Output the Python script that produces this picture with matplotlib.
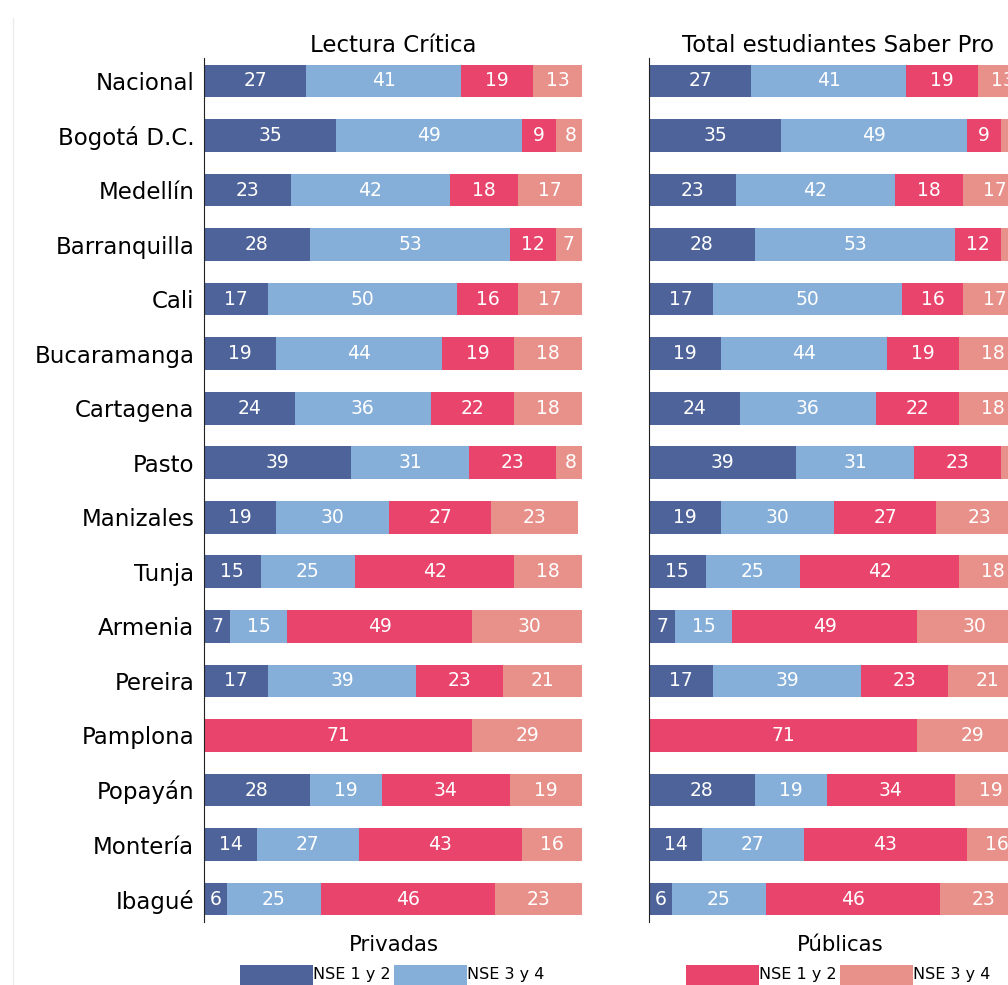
import matplotlib.pyplot as plt
from matplotlib.patches import Rectangle
from matplotlib.lines import Line2D

# ciudades (de arriba hacia abajo)
CIUDADES = ["Nacional", "Bogotá D.C.", "Medellín", "Barranquilla", "Cali",
            "Bucaramanga", "Cartagena", "Pasto", "Manizales", "Tunja",
            "Armenia", "Pereira", "Pamplona", "Popayán", "Montería", "Ibagué"]

# porcentajes por grupo
PRIV_NSE12 = [27, 35, 23, 28, 17, 19, 24, 39, 19, 15, 7, 17, 0, 28, 14, 6]
PRIV_NSE34 = [41, 49, 42, 53, 50, 44, 36, 31, 30, 25, 15, 39, 0, 19, 27, 25]
PUB_NSE12 = [19, 9, 18, 12, 16, 19, 22, 23, 27, 42, 49, 23, 71, 34, 43, 46]
PUB_NSE34 = [13, 8, 17, 7, 17, 18, 18, 8, 23, 18, 30, 21, 29, 19, 16, 23]

TITULOS = ["Lectura Crítica", "Total estudiantes Saber Pro"]

COLORES = ["#4E6399", "#85AFD9", "#E8446C", "#E8918A"]
SERIES = [PRIV_NSE12, PRIV_NSE34, PUB_NSE12, PUB_NSE34]

plt.rcParams['font.family'] = ['DejaVu Sans']

fig = plt.figure(figsize=(10.08, 9.85), dpi=100)

# linea gris tenue a la izquierda
fig.add_artist(Line2D([13 / 1008, 13 / 1008], [0, 1 - 18 / 985], color="#ececec", lw=1))


def dibujar_panel(ax, titulo, etiquetas):
	y = list(range(len(CIUDADES)))
	izq = [0] * len(CIUDADES)
	for serie, color in zip(SERIES, COLORES):
		barras = ax.barh(y, serie, left=izq, height=0.6, color=color, linewidth=0)
		for b, v in zip(barras, serie):
			if v > 0:
				ax.text(b.get_x() + b.get_width() / 2, b.get_y() + b.get_height() / 2, str(v),
					ha="center", va="center", color="white", fontsize=13.5, clip_on=False)
		izq = [a + b for a, b in zip(izq, serie)]
	ax.set_xlim(0, 100)
	ax.set_ylim(len(CIUDADES) - 1 + 0.42, -0.42)
	ax.set_title(titulo, fontsize=16.5, pad=4)
	for s in ["top", "right", "bottom"]:
		ax.spines[s].set_visible(False)
	ax.spines["left"].set_color("#222222")
	ax.set_xticks([])
	ax.set_yticks(y)
	if etiquetas:
		ax.set_yticklabels(CIUDADES, fontsize=16.5)
	else:
		ax.set_yticklabels([])
	ax.tick_params(axis="y", length=0, pad=7)


alto = 864 / 985
abajo = 63 / 985
ancho = 378 / 1008
ax1 = fig.add_axes([204 / 1008, abajo, ancho, alto])
ax2 = fig.add_axes([649 / 1008, abajo, ancho, alto])
dibujar_panel(ax1, TITULOS[0], True)
dibujar_panel(ax2, TITULOS[1], False)


# leyendas
def leyenda(x0, titulo, colores):
	fig.text((x0 + 154) / 1008, 1 - 945 / 985, titulo, ha="center", va="center", fontsize=15.3)
	for i, c in enumerate(colores):
		xp = x0 + i * 154
		fig.add_artist(Rectangle((xp / 1008, 1 - 985 / 985), 73 / 1008, 20 / 985,
			transform=fig.transFigure, color=c, lw=0))
		fig.text((xp + 73) / 1008, 1 - 974 / 985, "NSE 1 y 2" if i == 0 else "NSE 3 y 4",
			ha="left", va="center", fontsize=11.5)


leyenda(240, "Privadas", COLORES[:2])
leyenda(686, "Públicas", COLORES[2:])

fig.savefig("out.png", dpi=100)
